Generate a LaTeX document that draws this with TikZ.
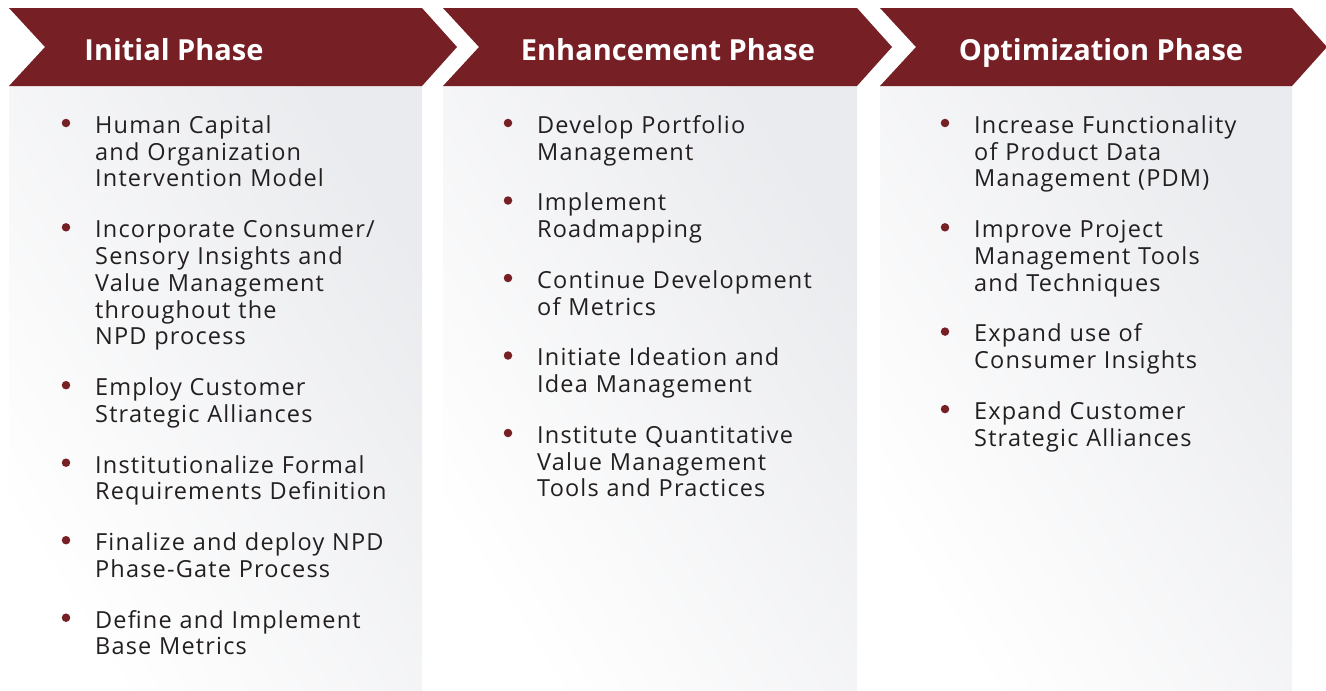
\documentclass[tikz,border=0pt]{standalone}
\usepackage{fontspec}
\setmainfont{Open Sans}
\usetikzlibrary{positioning}

\definecolor{phasered}{HTML}{761F24}
\definecolor{panelgray}{HTML}{EAEBEE}
\definecolor{bodytext}{HTML}{231F20}

\newcommand{\headfont}{\fontsize{29}{36}\selectfont\bfseries}
\newcommand{\itemfont}{\addfontfeatures{LetterSpace=5}\fontsize{23.5}{26.8}\selectfont}

\tikzset{
  chevron/.style={fill=phasered},
  panel/.style={top color=panelgray, bottom color=white, shading angle=-58},
  heading/.style={text=white, font=\headfont, anchor=base, inner sep=0pt},
  entry/.style={font=\itemfont, text=bodytext, text width=340pt, align=left, inner sep=0pt,
    execute at begin node=\strut, execute at end node=\strut},
  dot/.style={circle, fill=phasered, minimum size=8.5pt, inner sep=0pt},
}

\begin{document}
\begin{tikzpicture}[x=1pt,y=-1pt,node distance=23.5pt]
  \useasboundingbox (0,0) rectangle (1326,691);

  % panels
  \shade[panel] (9,86) rectangle (422,691);
  \shade[panel] (443,86) rectangle (857,691);
  \shade[panel] (880,86) rectangle (1292,691);

  % chevrons
  \fill[chevron] (9,8) -- (422,8) -- (457,47) -- (422,86) -- (9,86) -- (45,47) -- cycle;
  \fill[chevron] (443,8) -- (857,8) -- (892,47) -- (857,86) -- (443,86) -- (479,47) -- cycle;
  \fill[chevron] (880,8) -- (1292,8) -- (1327,47) -- (1292,86) -- (880,86) -- (916,47) -- cycle;

  \node[heading] (head1) at (174,60) {Initial Phase};
  \node[heading] (head2) at (668,60) {Enhancement Phase};
  \node[heading] (head3) at (1101,60) {Optimization Phase};

  % initial phase
  \node[entry, anchor=north west] (init1) at (95,114.4) {Human Capital\\and Organization\\Intervention Model};
  \node[entry] (init2) [below=of init1] {Incorporate Consumer/\\Sensory Insights and\\Value Management\\throughout the\\NPD process};
  \node[entry] (init3) [below=of init2] {Employ Customer\\Strategic Alliances};
  \node[entry] (init4) [below=of init3] {Institutionalize Formal\\Requirements Definition};
  \node[entry] (init5) [below=of init4] {Finalize and deploy NPD\\Phase-Gate Process};
  \node[entry] (init6) [below=of init5] {Define and Implement\\Base Metrics};

  % enhancement phase
  \node[entry, anchor=north west] (enh1) at (537,114.4) {Develop Portfolio\\Management};
  \node[entry] (enh2) [below=of enh1] {Implement\\Roadmapping};
  \node[entry] (enh3) [below=of enh2] {Continue Development\\of Metrics};
  \node[entry] (enh4) [below=of enh3] {Initiate Ideation and\\Idea Management};
  \node[entry] (enh5) [below=of enh4] {Institute Quantitative\\Value Management\\Tools and Practices};

  % optimization phase
  \node[entry, anchor=north west] (opt1) at (974,114.4) {Increase Functionality\\of Product Data\\Management (PDM)};
  \node[entry] (opt2) [below=of opt1] {Improve Project\\Management Tools\\and Techniques};
  \node[entry] (opt3) [below=of opt2] {Expand use of\\Consumer Insights};
  \node[entry] (opt4) [below=of opt3] {Expand Customer\\Strategic Alliances};

  % bullets
  \foreach \n in {init1,init2,init3,init4,init5,init6,enh1,enh2,enh3,enh4,enh5,opt1,opt2,opt3,opt4}
    \node[dot] (dot-\n) at ([xshift=-29pt,yshift=-8.6pt]\n.north west) {};
\end{tikzpicture}
\end{document}
